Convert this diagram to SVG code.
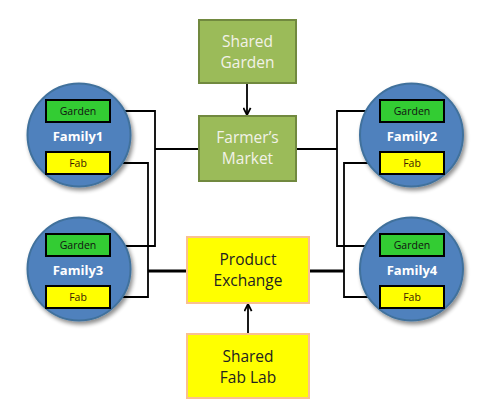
<svg xmlns="http://www.w3.org/2000/svg" width="495" height="416" viewBox="0 0 495 416">
<defs>
<filter id="sh" x="-20%" y="-20%" width="150%" height="150%">
<feGaussianBlur in="SourceAlpha" stdDeviation="2"/>
<feOffset dx="1.5" dy="2.5" result="b"/>
<feComponentTransfer><feFuncA type="linear" slope="0.45"/></feComponentTransfer>
<feMerge><feMergeNode/><feMergeNode in="SourceGraphic"/></feMerge>
</filter>
<marker id="arr" viewBox="0 0 10 10" refX="9" refY="5" markerWidth="9" markerHeight="9" orient="auto" markerUnits="userSpaceOnUse">
<path d="M1,1 L9,5 L1,9" fill="none" stroke="#000" stroke-width="2"/>
</marker>
</defs>
<style>
text{font-family:"Open Sans","Liberation Sans",sans-serif;text-anchor:middle;}
.fam{fill:#4F81BD;stroke:#41719C;stroke-width:2;}
.famt{fill:#fff;font-weight:bold;font-size:13px;}
.gb{fill:#33CC33;stroke:#000;stroke-width:2;}
.fb{fill:#FFFF00;stroke:#000;stroke-width:2;}
.bt{fill:#111;font-size:10.5px;}
.fabt{fill:#3a1a00;font-size:10.5px;}
.gr{fill:#9BBB59;stroke:#71893F;stroke-width:2;}
.grt{fill:#F2F2E8;font-size:15.5px;}
.ye{fill:#FFFF00;stroke:#FAC090;stroke-width:2;}
.yet{fill:#222;font-size:15.5px;}
.ln{fill:none;stroke:#000;stroke-width:1.8;}
.thk{fill:none;stroke:#000;stroke-width:3;}
</style>
<rect width="495" height="416" fill="#fff"/>
<g id="connectors">
<path class="ln" d="M110,111 H155 V246 H110"/>
<path class="ln" d="M155,149 H200"/>
<path class="ln" d="M110,163 H148 V297 H110"/>
<path class="thk" d="M148,271 H187"/>
<path class="ln" d="M380,111 H337 V246 H380"/>
<path class="ln" d="M296,149 H337"/>
<path class="ln" d="M380,163 H344 V297 H380"/>
<path class="thk" d="M309,271 H344"/>
<path class="ln" d="M247,83 V115" marker-end="url(#arr)"/>
<path class="ln" d="M248,334 V304" marker-end="url(#arr)"/>
</g>
<g id="family1">
<circle class="fam" cx="79" cy="135" r="51.5" filter="url(#sh)"/>
<rect class="gb" x="46" y="100" width="64" height="22"/>
<text class="bt" x="78" y="115">Garden</text>
<text class="famt" x="78" y="141">Family1</text>
<rect class="fb" x="46" y="152" width="64" height="22"/>
<text class="fabt" x="78" y="167">Fab</text>
</g>
<g id="family3">
<circle class="fam" cx="79" cy="269" r="51.5" filter="url(#sh)"/>
<rect class="gb" x="46" y="234" width="64" height="22"/>
<text class="bt" x="78" y="249">Garden</text>
<text class="famt" x="78" y="275">Family3</text>
<rect class="fb" x="46" y="286" width="64" height="22"/>
<text class="fabt" x="78" y="301">Fab</text>
</g>
<g id="family2">
<circle class="fam" cx="411.5" cy="135" r="51.5" filter="url(#sh)"/>
<rect class="gb" x="380" y="100" width="64" height="22"/>
<text class="bt" x="412" y="115">Garden</text>
<text class="famt" x="412" y="141">Family2</text>
<rect class="fb" x="380" y="152" width="64" height="22"/>
<text class="fabt" x="412" y="167">Fab</text>
</g>
<g id="family4">
<circle class="fam" cx="411.5" cy="269" r="51.5" filter="url(#sh)"/>
<rect class="gb" x="380" y="234" width="64" height="22"/>
<text class="bt" x="412" y="249">Garden</text>
<text class="famt" x="412" y="275">Family4</text>
<rect class="fb" x="380" y="286" width="64" height="22"/>
<text class="fabt" x="412" y="301">Fab</text>
</g>
<g id="shared-garden">
<rect class="gr" x="199" y="20" width="97" height="63"/>
<text class="grt" x="247.5" y="47">Shared</text>
<text class="grt" x="247.5" y="68">Garden</text>
</g>
<g id="farmers-market">
<rect class="gr" x="199" y="116" width="97" height="65"/>
<text class="grt" x="247.5" y="143">Farmer’s</text>
<text class="grt" x="247.5" y="164">Market</text>
</g>
<g id="product-exchange">
<rect class="ye" x="187" y="237" width="122" height="66"/>
<text class="yet" x="248" y="265">Product</text>
<text class="yet" x="248" y="286">Exchange</text>
</g>
<g id="shared-fab-lab">
<rect class="ye" x="187" y="334" width="122" height="64"/>
<text class="yet" x="248" y="362">Shared</text>
<text class="yet" x="248" y="383">Fab Lab</text>
</g>
</svg>
